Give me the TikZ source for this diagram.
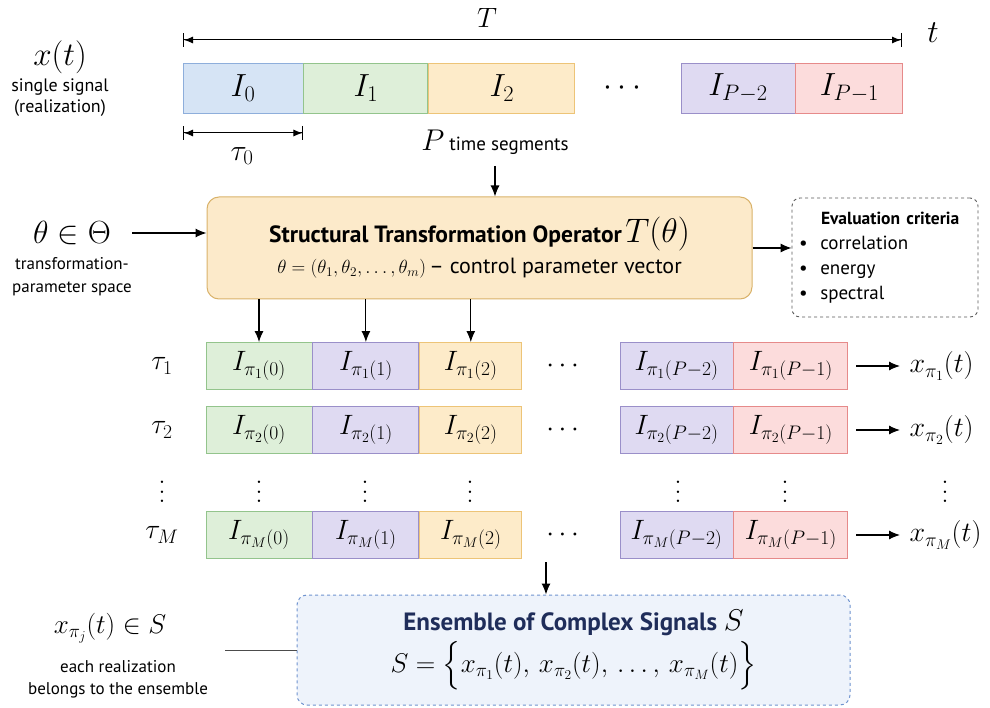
\RequirePackage{fix-cm}
\documentclass[tikz,border=0pt]{standalone}
\usepackage{amsmath,amssymb}
\usepackage{fontspec}
\setsansfont{PT Sans}
\usepackage{xcolor}
\usepackage{tikz}
\usetikzlibrary{arrows.meta,positioning}

\definecolor{bluefill}{HTML}{D6E4F5}\definecolor{blueline}{HTML}{8EAEDB}
\definecolor{greenfill}{HTML}{DEEFD9}\definecolor{greenline}{HTML}{93C48C}
\definecolor{orangefill}{HTML}{FDEBC9}\definecolor{orangeline}{HTML}{EDC477}
\definecolor{purplefill}{HTML}{DFDAF2}\definecolor{purpleline}{HTML}{9A8FC9}
\definecolor{redfill}{HTML}{FCDCDC}\definecolor{redline}{HTML}{E68A8A}
\definecolor{opfill}{HTML}{FCEACA}\definecolor{opline}{HTML}{D9B26A}
\definecolor{ensfill}{HTML}{EEF3FB}\definecolor{ensline}{HTML}{6F93CF}
\definecolor{ensnavy}{HTML}{1F2D5A}

\tikzset{
  seg/.style={draw, line width=0.9pt, inner sep=0pt, minimum height=#1},
  seg/.default=50pt,
  lbl/.style={font=\sffamily\fontsize{18}{21}\selectfont, align=center},
  arr/.style={->, line width=1.1pt, >={Latex[length=11pt,width=9pt]}},
  vdot/.style={inner sep=0pt},
}

\begin{document}
\begin{tikzpicture}[x=1pt, y=-1pt]
        \useasboundingbox (0,0) rectangle (990,708);

        % top signal
        \node[font=\fontsize{33}{35}\selectfont] (xt) at (60,57) {$x(t)$};
        \node[lbl] (xtlbl) at (60,98) {single signal\\(realization)};
        \node[font=\fontsize{28}{30}\selectfont] (Tlbl) at (487,18) {$T$};
        \node[font=\fontsize{32}{34}\selectfont] (tlbl) at (933,33) {$t$};
        \coordinate (Tl) at (183,40);
        \coordinate (Tr) at (902,40);
        \draw[line width=1pt, {Bar[width=14pt]Latex[length=9pt,width=7pt]}-{Latex[length=9pt,width=7pt]Bar[width=14pt]}] (Tl) -- (Tr);

        \begin{scope}[every node/.append style={font=\fontsize{32}{34}\selectfont}]
        \node[seg, fill=bluefill, draw=blueline, minimum width=120pt] (I0) at (243,88) {$I_0$};
        \node[seg, fill=greenfill, draw=greenline, minimum width=124pt, right=0pt of I0] (I1) {$I_1$};
        \node[seg, fill=orangefill, draw=orangeline, minimum width=146pt, right=0pt of I1] (I2) {$I_2$};
        \node (Idots) at (625,88) {$\cdots$};
        \node[seg, fill=purplefill, draw=purpleline, minimum width=114pt] (IP2) at (738,88) {$I_{P-2}$};
        \node[seg, fill=redfill, draw=redline, minimum width=107pt, right=0pt of IP2] (IP1) {$I_{P-1}$};
        \end{scope}

        \coordinate (taul) at (183,133);
        \draw[line width=1pt, {Bar[width=14pt]Latex[length=9pt,width=7pt]}-{Latex[length=9pt,width=7pt]Bar[width=14pt]}] (taul) -- (taul -| I0.east);
        \node[font=\fontsize{30}{32}\selectfont] (tau0) at (242,156) {$\tau_0$};
        \node[lbl, font=\sffamily\fontsize{19}{21}\selectfont] (ptext) at (495,142) {{\fontsize{30}{32}\selectfont$P$} time segments};

        % operator
        \node[draw=opline, fill=opfill, line width=1pt, rounded corners=12pt, minimum width=545pt, minimum height=102pt, align=center] (op) at (479.5,248)
          {{\sffamily\bfseries\fontsize{23.5}{25}\selectfont Structural Transformation Operator}~{\fontsize{34}{36}\selectfont$T(\theta)$}\\[6pt]
           {\fontsize{19}{22}\selectfont$\theta=(\theta_1,\theta_2,\dots,\theta_m)$}~{\sffamily\fontsize{22}{24}\selectfont -- control parameter vector}};
        \draw[arr] (ptext.south) ++(0,8) -- (ptext.south |- op.north);

        \node[font=\fontsize{32}{34}\selectfont] (theta) at (72,233) {$\theta\in\Theta$};
        \node[lbl, font=\sffamily\fontsize{17}{23}\selectfont] (thetalbl) at (72,277) {transformation-\\parameter space};
        \draw[arr, shorten <=18pt] (theta.east) -- (theta.east -| op.west);

        \node[draw=black!65, dashed, line width=0.9pt, rounded corners=8pt, minimum width=186pt, minimum height=119pt, text width=172pt, align=left, font=\sffamily\fontsize{19}{25}\selectfont] (eval) at (885,257.5)
          {\hspace*{22pt}{\fontsize{17.5}{20}\selectfont\textbf{Evaluation criteria}}\\ \textbullet~~correlation\\ \textbullet~~energy\\ \textbullet~~spectral};
        \draw[arr] (op.east) -- (op.east -| eval.west);

        % permuted rows
        \foreach \r/\y in {1/366, 2/430, M/535} {
          \begin{scope}[every node/.append style={font=\fontsize{28}{30}\selectfont}]
          \node (tau\r) at (162,\y) {$\tau_{\r}$};
          \node[seg=47pt, fill=greenfill, draw=greenline, minimum width=106pt] (r\r c0) at (259,\y) {$I_{\pi_{\r}(0)}$};
          \node[seg=47pt, fill=purplefill, draw=purpleline, minimum width=106pt, right=0pt of r\r c0] (r\r c1) {$I_{\pi_{\r}(1)}$};
          \node[seg=47pt, fill=orangefill, draw=orangeline, minimum width=102pt, right=0pt of r\r c1] (r\r c2) {$I_{\pi_{\r}(2)}$};
          \node (r\r dots) at (565,\y) {$\cdots$};
          \node[seg=47pt, fill=purplefill, draw=purpleline, minimum width=113pt] (r\r c3) at (676.5,\y) {$I_{\pi_{\r}(P-2)}$};
          \node[seg=47pt, fill=redfill, draw=redline, minimum width=114pt, right=0pt of r\r c3] (r\r c4) {$I_{\pi_{\r}(P-1)}$};
          \node[anchor=west, font=\fontsize{28}{30}\selectfont] (x\r) at (906,\y) {$x_{\pi_{\r}}(t)$};
          \end{scope}
          \draw[arr, shorten <=8pt, shorten >=6pt] (r\r c4.east) -- (x\r.west);
        }
        \foreach \x in {162,259,365,470,678,785,945}
          \node[vdot] (vd\x) at (\x,485) {\scalebox{2.3}{$\vdots$}};

        \foreach \c in {0,1,2}
          \draw[arr] (op.south -| r1c\c) -- (r1c\c.north);

        % ensemble
        \node[draw=ensline, fill=ensfill, dashed, line width=1pt, rounded corners=10pt, minimum width=553pt, minimum height=110pt, align=center] (ens) at (573.5,650)
          {{\sffamily\bfseries\color{ensnavy}\fontsize{25}{27}\selectfont Ensemble of Complex Signals}~~{\fontsize{30}{32}\selectfont$S$}\\[4pt]
           {\fontsize{27}{30}\selectfont$S=\Big\{x_{\pi_1}(t),\,x_{\pi_2}(t),\,\dots,\,x_{\pi_M}(t)\Big\}$}};
        \coordinate (mid) at (546,562);
        \draw[arr] (mid) -- (mid |- ens.north);

        \node[font=\fontsize{27}{30}\selectfont] (xj) at (110,628) {$x_{\pi_j}(t)\in S$};
        \node[lbl, font=\sffamily\fontsize{17}{22}\selectfont] (xjlbl) at (118,679) {each realization\\belongs to the ensemble};
        \coordinate (xjend) at (225,650);
        \draw[line width=1pt, black!70] (xjend) -- (ens.west);
    \end{tikzpicture}
\end{document}
